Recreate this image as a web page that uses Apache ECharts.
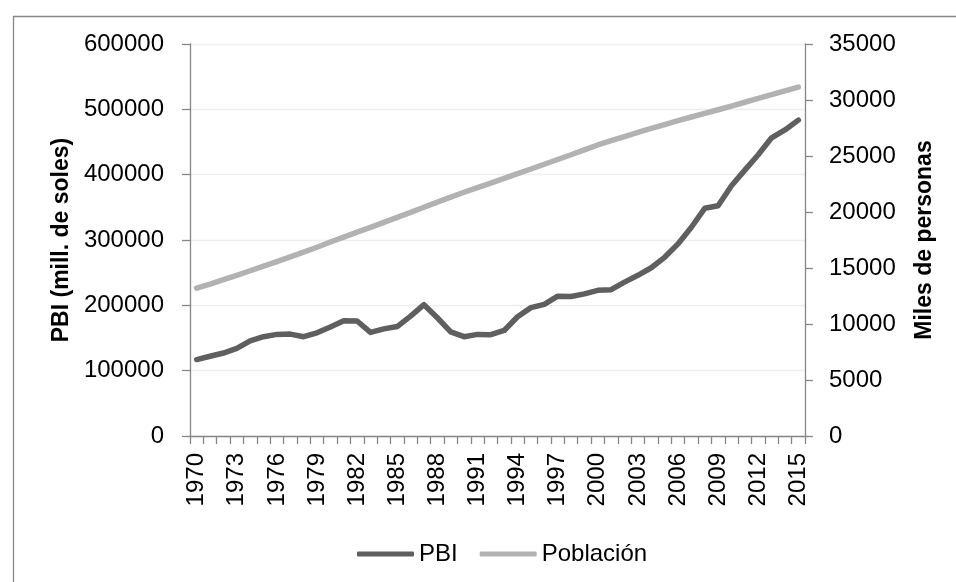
<!DOCTYPE html>
<html>
<head>
<meta charset="utf-8">
<style>
  html, body { margin: 0; padding: 0; background: #ffffff; }
  #chart { width: 956px; height: 582px; }
</style>
<script src="https://cdn.jsdelivr.net/npm/echarts@6/dist/echarts.min.js"></script>
</head>
<body>
<div id="chart"></div>
<script>
// Años 1970–2015
const years = [
  '1970','1971','1972','1973','1974','1975','1976','1977','1978','1979',
  '1980','1981','1982','1983','1984','1985','1986','1987','1988','1989',
  '1990','1991','1992','1993','1994','1995','1996','1997','1998','1999',
  '2000','2001','2002','2003','2004','2005','2006','2007','2008','2009',
  '2010','2011','2012','2013','2014','2015'
];

// PBI real (millones de soles)
const pbi = [
  117000, 122000, 127000, 134000, 145500, 152000, 155500, 156000, 152000, 158000,
  167000, 176500, 176000, 158500, 164000, 167500, 183500, 201000, 181000, 159500,
  152000, 155500, 155000, 161500, 182500, 196500, 201500, 214000, 213500, 217500,
  223000, 224000, 235500, 246000, 257500, 273500, 294000, 319500, 348500, 352500,
  383000, 407000, 430500, 456500, 468500, 483500
];

// Población (miles de personas)
const poblacion = [
  13193, 13568, 13953, 14350, 14753, 15161, 15573, 15990, 16414, 16853,
  17324, 17760, 18197, 18634, 19076, 19523, 19970, 20424, 20880, 21330,
  21765, 22179, 22584, 23002, 23420, 23837, 24265, 24690, 25113, 25540,
  25984, 26367, 26739, 27103, 27460, 27811, 28151, 28482, 28807, 29132,
  29462, 29798, 30136, 30475, 30814, 31152
];

const font = 'Liberation Sans';
const axisGray = '#868686';
const plain = v => String(v);

const chart = echarts.init(document.getElementById('chart'), null, { renderer: 'canvas' });

chart.setOption({
  animation: false,
  backgroundColor: '#ffffff',
  textStyle: { fontFamily: font },
  graphic: [{
    type: 'rect',
    left: 11, top: 14,
    shape: { x: 0, y: 0, width: 1000, height: 700 },
    style: { fill: 'none', stroke: '#888888', lineWidth: 1.3 },
    silent: true
  }],
  grid: { left: 190, right: 151, top: 44, bottom: 146 },
  legend: {
    left: 352, top: 537,
    icon: 'roundRect',
    itemWidth: 57, itemHeight: 5,
    itemGap: 22,
    textStyle: { fontFamily: font, fontSize: 24, color: '#000000' },
    data: ['PBI', 'Población']
  },
  xAxis: {
    type: 'category',
    data: years,
    boundaryGap: true,
    axisLine: { lineStyle: { color: axisGray, width: 1.3 } },
    axisTick: { show: true, interval: 0, length: 8, lineStyle: { color: axisGray, width: 1.3 } },
    axisLabel: {
      interval: 2, rotate: 90, margin: 17,
      fontFamily: font, fontSize: 24, color: '#000000'
    },
    splitLine: { show: false }
  },
  yAxis: [{
    type: 'value',
    min: 0, max: 600000, interval: 100000,
    name: 'PBI (mill. de soles)',
    nameLocation: 'middle', nameRotate: 90, nameGap: 110,
    nameTextStyle: { fontFamily: font, fontSize: 23, fontWeight: 'bold', color: '#000000' },
    axisLine: { show: true, lineStyle: { color: axisGray, width: 1.3 } },
    axisTick: { show: true, length: 8, lineStyle: { color: axisGray, width: 1.3 } },
    axisLabel: { margin: 26, formatter: plain, fontFamily: font, fontSize: 24, color: '#000000' },
    splitLine: { show: true, lineStyle: { color: '#eeeeee', width: 1.3 } }
  }, {
    type: 'value',
    position: 'right',
    min: 0, max: 35000, interval: 5000,
    name: 'Miles de personas',
    nameLocation: 'middle', nameRotate: 90, nameGap: 108,
    nameTextStyle: { fontFamily: font, fontSize: 23, fontWeight: 'bold', color: '#000000' },
    axisLine: { show: true, lineStyle: { color: axisGray, width: 1.3 } },
    axisTick: { show: true, length: 8, lineStyle: { color: axisGray, width: 1.3 } },
    axisLabel: { margin: 24, formatter: plain, fontFamily: font, fontSize: 24, color: '#000000' },
    splitLine: { show: false }
  }],
  series: [{
    name: 'PBI',
    type: 'line',
    yAxisIndex: 0,
    data: pbi,
    symbol: 'none',
    itemStyle: { color: '#5f5f5f' },
    lineStyle: { color: '#5f5f5f', width: 5.5, cap: 'round', join: 'round' },
    z: 3
  }, {
    name: 'Población',
    type: 'line',
    yAxisIndex: 1,
    data: poblacion,
    symbol: 'none',
    itemStyle: { color: '#b2b2b2' },
    lineStyle: { color: '#b2b2b2', width: 5.5, cap: 'round', join: 'round' },
    z: 2
  }]
});
</script>
</body>
</html>
